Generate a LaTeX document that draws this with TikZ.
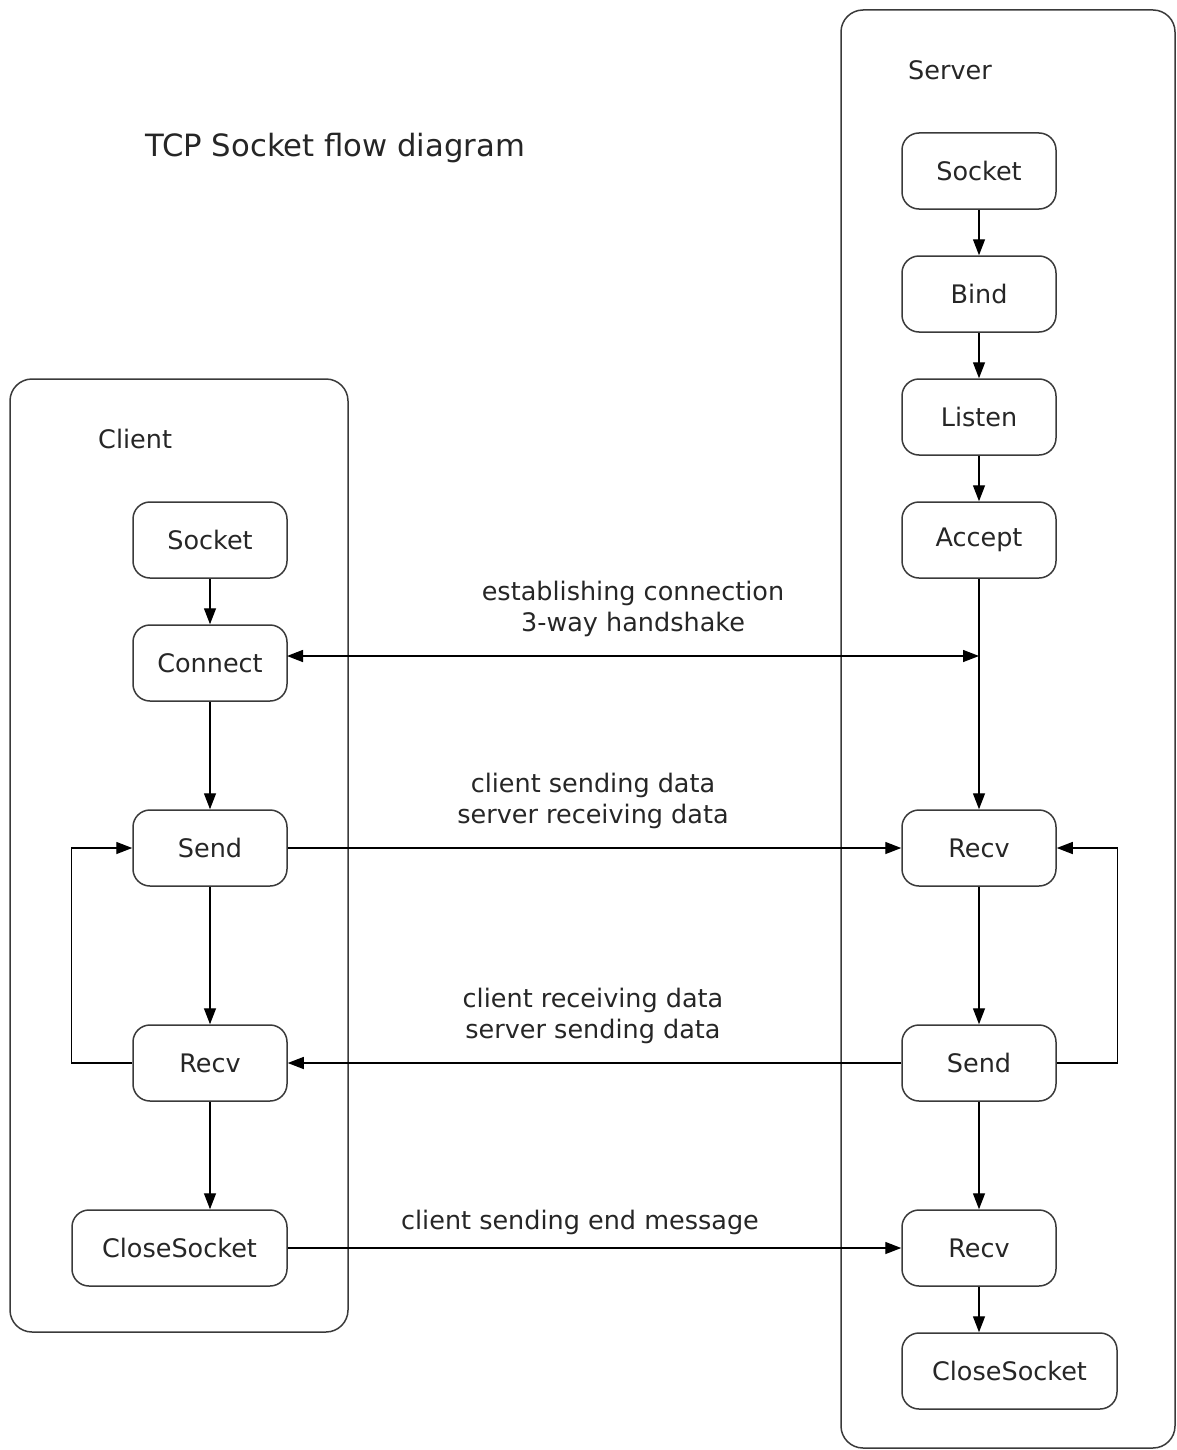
\documentclass[tikz,border=0pt]{standalone}
\usepackage{fontspec}
\setmainfont{DejaVu Sans}
\usetikzlibrary{arrows.meta,positioning}
\definecolor{txt}{HTML}{262626}
\definecolor{edge}{HTML}{3A3A3A}
\begin{document}
\begin{tikzpicture}[x=1pt,y=-1pt,
  every node/.style={text=txt,font=\fontsize{25.5}{31}\selectfont},
  proc/.style={draw=edge,line width=1.5pt,rounded corners=17pt,minimum width=154pt,minimum height=76pt,inner sep=0pt,align=center},
  wide/.style={proc,minimum width=215pt},
  lane/.style={draw=edge,line width=1.5pt,rounded corners=22pt},
  flow/.style={draw=black,line width=1.4pt,-{Triangle[length=16pt,width=12pt]}},
  lbl/.style={align=center,inner sep=0pt}]
\useasboundingbox (0,0) rectangle (1176,1450);
% lanes
\draw[lane] (10,379) rectangle (348,1332);
\draw[lane] (841,10) rectangle (1175,1448);
% titles
\node[anchor=west,inner sep=0pt,font=\fontsize{30.7}{36}\selectfont] (title) at (145,148) {TCP Socket flow diagram};
\node[anchor=west,inner sep=0pt] (clientlbl) at (98,439) {Client};
\node[anchor=west,inner sep=0pt] (serverlbl) at (908,70) {Server};
% client nodes
\node[proc] (csock) at (210,540) {Socket};
\node[proc] (cconn) at (210,663) {Connect};
\node[proc] (csend) at (210,848) {Send};
\node[proc] (crecv) at (210,1063) {Recv};
\node[wide] (cclose) at (179.5,1248) {CloseSocket};
% server nodes
\node[proc] (ssock) at (979,171) {Socket};
\node[proc] (sbind) at (979,294) {Bind};
\node[proc] (slist) at (979,417) {Listen};
\node[proc] (sacc) at (979,540) {Accept};
\node[proc] (srecv) at (979,848) {Recv};
\node[proc] (ssend) at (979,1063) {Send};
\node[proc] (srecvb) at (979,1248) {Recv};
\node[wide] (sclose) at (1009.5,1371) {CloseSocket};
% vertical flows
\draw[flow] (csock) -- (cconn);
\draw[flow] (cconn) -- (csend);
\draw[flow] (csend) -- (crecv);
\draw[flow] (crecv.south) -- (crecv.south |- cclose.north);
\draw[flow] (ssock) -- (sbind);
\draw[flow] (sbind) -- (slist);
\draw[flow] (slist) -- (sacc);
\draw[flow] (sacc) -- (srecv);
\draw[flow] (srecv) -- (ssend);
\draw[flow] (ssend) -- (srecvb);
\draw[flow] (srecvb.south) -- (srecvb.south |- sclose.north);
% handshake
\coordinate (hsL) at (287,656);
\coordinate (hsR) at (979,656);
\draw[flow,{Triangle[length=16pt,width=12pt]}-{Triangle[length=16pt,width=12pt]}] (hsL) -- (hsR);
% horizontal messages
\draw[flow] (csend) -- (srecv);
\draw[flow] (ssend) -- (crecv);
\draw[flow] (cclose) -- (srecvb);
% loops
\draw[flow] (crecv.west) -- ++(-61,0) |- (csend.west);
\draw[flow] (ssend.east) -- ++(61,0) |- (srecv.east);
% labels
\node[lbl] (l1) at (633,609) {establishing connection\\3-way handshake};
\node[lbl] (l2) at (593,801) {client sending data\\server receiving data};
\node[lbl] (l3) at (593,1016) {client receiving data\\server sending data};
\node[lbl] (l4) at (580,1222) {client sending end message};
\end{tikzpicture}
\end{document}
